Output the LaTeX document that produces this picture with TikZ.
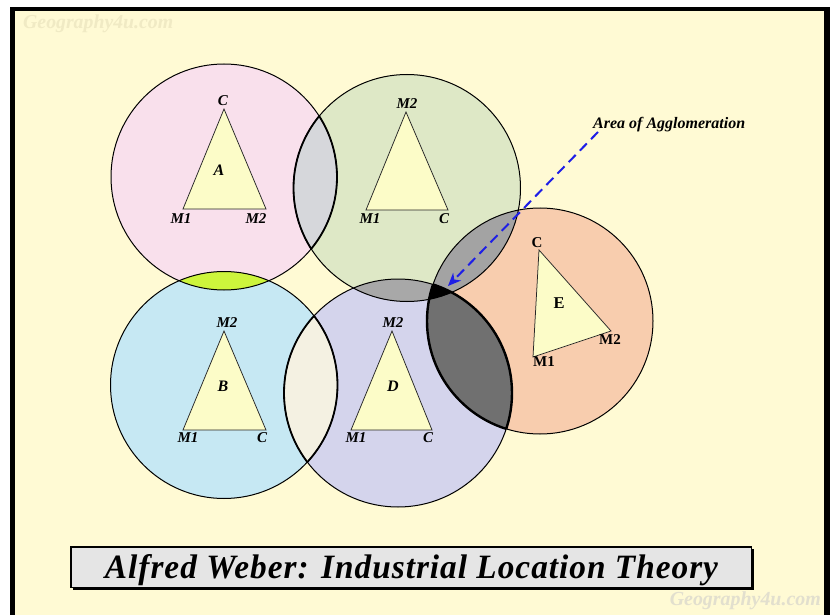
\documentclass[tikz,border=0pt]{standalone}
\usepackage{fontspec}
\usepackage{graphicx}
\setmainfont{Liberation Serif}
\newfontfamily\titlefont[LetterSpace=3]{Liberation Serif}
\usetikzlibrary{arrows.meta}
\definecolor{bg}{RGB}{255,250,212}
\definecolor{cpink}{RGB}{249,224,236}
\definecolor{cgreen}{RGB}{222,232,198}
\definecolor{cblue}{RGB}{198,232,243}
\definecolor{cpurple}{RGB}{212,212,236}
\definecolor{corange}{RGB}{248,205,174}
\definecolor{lensAC}{RGB}{214,215,219}
\definecolor{lensAB}{RGB}{205,245,60}
\definecolor{lensBD}{RGB}{244,241,226}
\definecolor{lensCD}{RGB}{168,168,168}
\definecolor{lensCE}{RGB}{163,163,163}
\definecolor{lensDE}{RGB}{112,112,112}
\definecolor{trifill}{RGB}{252,252,200}
\definecolor{titlefill}{RGB}{229,229,229}
\definecolor{arrowblue}{RGB}{30,30,230}
\definecolor{wmark}{RGB}{240,234,196}
\definecolor{wmarkb}{RGB}{226,223,206}
\def\radA{113}
\def\radB{113.5}
\def\radC{113.5}
\def\radD{114}
\def\radE{113}
\begin{document}
\begin{tikzpicture}[x=1pt,y=-1pt,
  circ/.style={draw=black,line width=1pt},
  lensedge/.style={draw=black,line width=1.8pt},
  tri/.style={draw=black!85,line width=0.75pt,fill=trifill,line join=miter},
  vlab/.style={font=\fontsize{15}{15}\selectfont\bfseries\itshape,inner sep=0pt},
  vlabup/.style={font=\fontsize{15}{15}\selectfont\bfseries,inner sep=0pt},
  tname/.style={font=\fontsize{16}{16}\selectfont\bfseries\itshape,inner sep=0pt},
  tnameup/.style={font=\fontsize{16.5}{16.5}\selectfont\bfseries,inner sep=0pt},
  aggarrow/.style={draw=arrowblue,line width=2pt,dash pattern=on 10pt off 6pt,
    -{Stealth[length=13pt,width=11pt,inset=4pt]}},
]
\useasboundingbox (0,0) rectangle (833,615);
\clip (0,0) rectangle (833,615);
\fill[white] (0,0) rectangle (833,615);
\fill[black] (10,7) rectangle (830,620);
\fill[bg] (14.5,11.5) rectangle (824,620);

% watermarks
\node[text=wmark,inner sep=0pt,anchor=base west] (wm1) at (23,29)
  {\resizebox{150pt}{!}{\fontsize{19}{19}\selectfont\bfseries\itshape Geography4u.com}};
\node[text=wmarkb,inner sep=0pt,anchor=base east] (wm2) at (821,605)
  {\resizebox{151pt}{!}{\fontsize{19}{19}\selectfont\bfseries\itshape Geography4u.com}};

% circle centres
\coordinate (cA) at (224,177);
\coordinate (cC) at (407,188);
\coordinate (cB) at (224,385);
\coordinate (cD) at (398,393);
\coordinate (cE) at (540,321);

% circle fills
\fill[cpink] (cA) circle[radius=\radA];
\fill[cgreen] (cC) circle[radius=\radC];
\fill[cblue] (cB) circle[radius=\radB];
\fill[cpurple] (cD) circle[radius=\radD];
\fill[corange] (cE) circle[radius=\radE];

% lens fills
\begin{scope}\clip (cA) circle[radius=\radA]; \fill[lensAC] (cC) circle[radius=\radC];\end{scope}
\begin{scope}\clip (cA) circle[radius=\radA]; \fill[lensAB] (cB) circle[radius=\radB];\end{scope}
\begin{scope}\clip (cB) circle[radius=\radB]; \fill[lensBD] (cD) circle[radius=\radD];\end{scope}
\begin{scope}\clip (cC) circle[radius=\radC]; \fill[lensCD] (cD) circle[radius=\radD];\end{scope}
\begin{scope}\clip (cC) circle[radius=\radC]; \fill[lensCE] (cE) circle[radius=\radE];\end{scope}
\begin{scope}\clip (cD) circle[radius=\radD]; \fill[lensDE] (cE) circle[radius=\radE];\end{scope}
\begin{scope}\clip (cC) circle[radius=\radC]; \clip (cD) circle[radius=\radD]; \fill[black] (cE) circle[radius=\radE];\end{scope}

% outlines
\draw[circ] (cA) circle[radius=\radA];
\draw[circ] (cC) circle[radius=\radC];
\draw[circ] (cB) circle[radius=\radB];
\draw[circ] (cD) circle[radius=\radD];
\draw[circ] (cE) circle[radius=\radE];
\begin{scope}\clip (cA) circle[radius=\radA]; \draw[lensedge] (cC) circle[radius=\radC];\end{scope}
\begin{scope}\clip (cC) circle[radius=\radC]; \draw[lensedge] (cA) circle[radius=\radA];\end{scope}
\begin{scope}\clip (cB) circle[radius=\radB]; \draw[lensedge] (cD) circle[radius=\radD];\end{scope}
\begin{scope}\clip (cD) circle[radius=\radD]; \draw[lensedge] (cB) circle[radius=\radB];\end{scope}
\begin{scope}\clip (cD) circle[radius=\radD]; \draw[lensedge,line width=2.4pt] (cE) circle[radius=\radE];\end{scope}
\begin{scope}\clip (cE) circle[radius=\radE]; \draw[lensedge,line width=2.4pt] (cD) circle[radius=\radD];\end{scope}

% triangle A
\coordinate (aT) at (224,109); \coordinate (aL) at (183,209); \coordinate (aR) at (266,209);
\draw[tri] (aT) -- (aL) -- (aR) -- cycle;
\node[vlab] (aTl) at (223,101) {C};
\node[vlab] (aLl) at (181,219) {M1};
\node[vlab] (aRl) at (256,219) {M2};
\node[tname] (aN) at (219,170) {A};

% triangle C (green circle)
\coordinate (cT) at (406,112); \coordinate (cL) at (366,210); \coordinate (cR) at (448,210);
\draw[tri] (cT) -- (cL) -- (cR) -- cycle;
\node[vlab] (cTl) at (407,104) {M2};
\node[vlab] (cLl) at (370,219) {M1};
\node[vlab] (cRl) at (444,219) {C};

% triangle B
\coordinate (bT) at (224,331); \coordinate (bL) at (183,430); \coordinate (bR) at (266,430);
\draw[tri] (bT) -- (bL) -- (bR) -- cycle;
\node[vlab] (bTl) at (227,323) {M2};
\node[vlab] (bLl) at (188,438) {M1};
\node[vlab] (bRl) at (262,438) {C};
\node[tname] (bN) at (223,386) {B};

% triangle D
\coordinate (dT) at (392,331); \coordinate (dL) at (351,430); \coordinate (dR) at (432,430);
\draw[tri] (dT) -- (dL) -- (dR) -- cycle;
\node[vlab] (dTl) at (393,323) {M2};
\node[vlab] (dLl) at (356,438) {M1};
\node[vlab] (dRl) at (428,438) {C};
\node[tname] (dN) at (393,386) {D};

% triangle E
\coordinate (eT) at (539,250); \coordinate (eL) at (533,357); \coordinate (eR) at (611,331);
\draw[tri] (eT) -- (eL) -- (eR) -- cycle;
\node[vlabup] (eTl) at (537,243) {C};
\node[vlabup] (eLl) at (544,362) {M1};
\node[vlabup] (eRl) at (610,340) {M2};
\node[tnameup] (eN) at (559,303) {E};

% area of agglomeration
\node[font=\fontsize{16}{16}\selectfont\bfseries\itshape,inner sep=0pt,anchor=base west] (agg) at (593,129) {Area of Agglomeration};
\coordinate (aggstart) at (598,132);
\coordinate (aggtip) at (448,286);
\draw[aggarrow] (aggstart) -- (aggtip);

% title
\fill[black] (72.5,548.5) rectangle (753.5,589.5);
\filldraw[fill=titlefill,draw=black,line width=1.4pt] (71,547) rectangle (751.5,587.5);
\node[inner sep=0pt,anchor=base] (title) at (411.5,578)
  {\resizebox{613pt}{24pt}{\fontsize{33}{33}\selectfont\titlefont\bfseries\itshape Alfred Weber: Industrial Location Theory}};
\end{tikzpicture}
\end{document}
